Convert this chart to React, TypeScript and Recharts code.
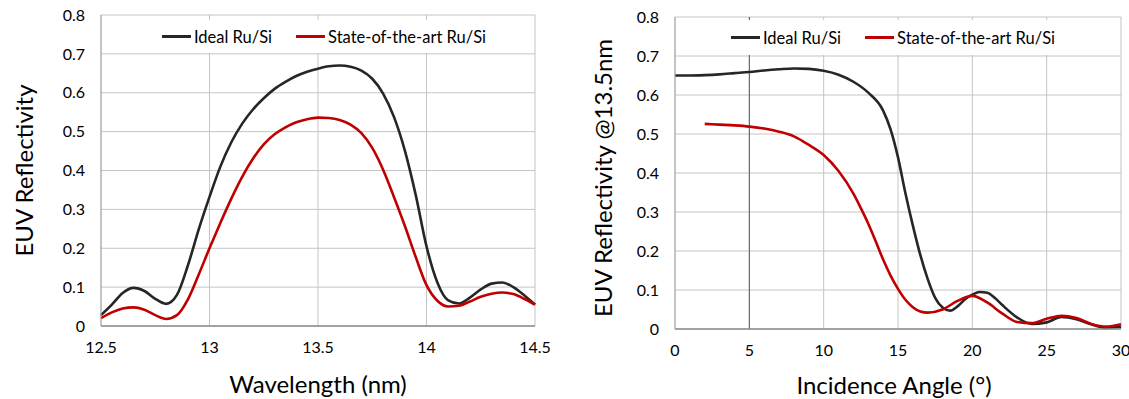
import React from 'react';
import { LineChart, Line, XAxis, YAxis, CartesianGrid, Legend, ReferenceLine } from 'recharts';

// Reflectivity vs wavelength (normal incidence)
const wavelengths = [
  12.5, 12.55, 12.6, 12.65, 12.7, 12.75, 12.8, 12.85, 12.9, 12.95,
  13.0, 13.05, 13.1, 13.15, 13.2, 13.25, 13.3, 13.35, 13.4, 13.45,
  13.5, 13.55, 13.6, 13.65, 13.7, 13.75, 13.8, 13.85, 13.9, 13.95,
  14.0, 14.05, 14.1, 14.15, 14.2, 14.25, 14.3, 14.35, 14.4, 14.45, 14.5,
];
const idealByWavelength = [
  0.028, 0.055, 0.085, 0.098, 0.09, 0.07, 0.057, 0.08, 0.155, 0.248,
  0.332, 0.41, 0.472, 0.52, 0.557, 0.586, 0.61, 0.628, 0.643, 0.654,
  0.662, 0.668, 0.67, 0.667, 0.657, 0.636, 0.598, 0.538, 0.452, 0.338,
  0.205, 0.112, 0.066, 0.058, 0.073, 0.094, 0.109, 0.112, 0.1, 0.079, 0.055,
];
const sotaByWavelength = [
  0.02, 0.035, 0.045, 0.048, 0.042, 0.028, 0.018, 0.028, 0.068, 0.132,
  0.2, 0.265, 0.327, 0.383, 0.43, 0.467, 0.493, 0.511, 0.524, 0.532,
  0.536, 0.535, 0.53, 0.518, 0.496, 0.458, 0.402, 0.332, 0.258, 0.178,
  0.105, 0.065, 0.05, 0.052, 0.063, 0.075, 0.083, 0.086, 0.082, 0.07, 0.055,
];

// Reflectivity at 13.5 nm vs incidence angle
const idealAngles = [
  0, 1, 2, 3, 4, 5, 6, 7, 8, 9, 10, 11, 12, 13, 14, 14.5, 15, 15.5, 16, 16.5,
  17, 17.5, 18, 18.5, 19, 19.5, 20, 20.5, 21, 21.5, 22, 23, 24, 25, 26, 27, 28, 29, 30,
];
const idealByAngle = [
  0.65, 0.65, 0.651, 0.653, 0.656, 0.659, 0.663, 0.666, 0.668, 0.667, 0.662, 0.652,
  0.634, 0.606, 0.56, 0.512, 0.44, 0.348, 0.265, 0.19, 0.128, 0.08, 0.055, 0.047,
  0.058, 0.076, 0.088, 0.095, 0.093, 0.08, 0.062, 0.03, 0.013, 0.017, 0.031, 0.025,
  0.012, 0.003, 0.005,
];
const sotaAngles = [
  2, 3, 4, 5, 6, 7, 8, 9, 10, 11, 12, 12.5, 13, 13.5, 14, 14.5, 15, 15.5, 16, 16.5,
  17, 18, 19, 20, 21, 22, 23, 24, 25, 26, 27, 28, 29, 30,
];
const sotaByAngle = [
  0.526, 0.524, 0.522, 0.519, 0.514, 0.506, 0.494, 0.472, 0.446, 0.405, 0.347,
  0.31, 0.27, 0.225, 0.178, 0.137, 0.103, 0.075, 0.056, 0.045, 0.042, 0.05,
  0.072, 0.085, 0.068, 0.04, 0.018, 0.015, 0.026, 0.034, 0.028, 0.013, 0.006, 0.012,
];

const wavelengthTicks = [12.5, 13, 13.5, 14, 14.5];
const angleTicks = [0, 5, 10, 15, 20, 25, 30];
const reflectivityTicks = [0, 0.1, 0.2, 0.3, 0.4, 0.5, 0.6, 0.7, 0.8];

const seriesNames = ['Ideal Ru/Si', 'State-of-the-art Ru/Si'];

const FONT = 'Lato, Carlito, Calibri, sans-serif';
const BLACK = '#262626';
const RED = '#c00000';
const GRID = '#c4c4c4';

const wavelengthData = wavelengths.map((w, i) => ({
  x: w,
  ideal: idealByWavelength[i],
  sota: sotaByWavelength[i],
}));

const idealAngleData = idealAngles.map((a, i) => ({ x: a, ideal: idealByAngle[i] }));
const sotaAngleData = sotaAngles.map((a, i) => ({ x: a, sota: sotaByAngle[i] }));

const tickStyle = { fontFamily: FONT, fontSize: 16, fill: '#000' };

// vertical axis title, drawn at a fixed x inside the chart svg
function YTitle(props: any) {
  const { viewBox, value, posX, shift = 0 } = props;
  const cy = viewBox.y + viewBox.height / 2 + shift;
  return (
    <text
      x={posX}
      y={cy}
      transform={`rotate(-90, ${posX}, ${cy})`}
      textAnchor="middle"
      dominantBaseline="central"
      style={{ fontFamily: FONT, fontSize: 24, fill: '#000' }}
    >
      {value}
    </text>
  );
}

function XTitle(props: any) {
  const { viewBox, value, posY, shift = 0 } = props;
  const cx = viewBox.x + viewBox.width / 2 + shift;
  return (
    <text
      x={cx}
      y={posY}
      textAnchor="middle"
      dominantBaseline="central"
      style={{ fontFamily: FONT, fontSize: 24, fill: '#000' }}
    >
      {value}
    </text>
  );
}

function LegendRow(props: any) {
  const { payload, shift = 0 } = props;
  return (
    <div
      style={{
        display: 'flex',
        justifyContent: 'center',
        alignItems: 'center',
        height: '100%',
        gap: 24,
        paddingLeft: shift > 0 ? shift * 2 : 0,
        paddingRight: shift < 0 ? -shift * 2 : 0,
        boxSizing: 'border-box',
        fontFamily: FONT,
        fontSize: 16.5,
        color: '#000',
        background: '#fff',
      }}
    >
      {payload.map((p: any) => (
        <span key={p.value} style={{ display: 'flex', alignItems: 'center' }}>
          <span style={{ width: 29, height: 2.5, background: p.color, marginRight: 3 }} />
          {p.value}
        </span>
      ))}
    </div>
  );
}

function WavelengthChart() {
  return (
    <LineChart
      width={560}
      height={399}
      data={wavelengthData}
      margin={{ top: 15, right: 25, bottom: 43, left: 51 }}
    >
      <CartesianGrid stroke={GRID} strokeWidth={1} />
      <XAxis
        dataKey="x"
        type="number"
        domain={[12.5, 14.5]}
        ticks={wavelengthTicks}
        tickLine={false}
        axisLine={{ stroke: '#8c8c8c', strokeWidth: 1.5 }}
        tick={tickStyle}
        tickMargin={10}
        height={30}
        label={<XTitle value="Wavelength (nm)" posY={383} />}
      />
      <YAxis
        type="number"
        domain={[0, 0.8]}
        ticks={reflectivityTicks}
        tickLine={false}
        axisLine={{ stroke: '#a6a6a6' }}
        tick={tickStyle}
        tickMargin={10}
        width={50}
        label={<YTitle value="EUV Reflectivity" posX={23} />}
      />
      <Legend
        layout="horizontal"
        verticalAlign="middle"
        align="center"
        content={<LegendRow shift={6} />}
        wrapperStyle={{ top: 20, left: 104, width: 428, height: 33 }}
      />
      <Line
        type="monotone"
        dataKey="ideal"
        name={seriesNames[0]}
        stroke={BLACK}
        strokeWidth={2.6}
        dot={false}
        isAnimationActive={false}
      />
      <Line
        type="monotone"
        dataKey="sota"
        name={seriesNames[1]}
        stroke={RED}
        strokeWidth={2.6}
        dot={false}
        isAnimationActive={false}
      />
    </LineChart>
  );
}

function AngleChart() {
  return (
    <LineChart width={569} height={399} margin={{ top: 17, right: 8, bottom: 40, left: 65 }}>
      <CartesianGrid stroke={GRID} strokeWidth={1} />
      <ReferenceLine x={5} stroke="#595959" strokeWidth={1} />
      <XAxis
        dataKey="x"
        type="number"
        domain={[0, 30]}
        ticks={angleTicks}
        tickLine={false}
        axisLine={{ stroke: '#8c8c8c', strokeWidth: 1.5 }}
        tick={tickStyle}
        tickMargin={10}
        height={30}
        allowDuplicatedCategory={false}
        label={<XTitle value="Incidence Angle (°)" posY={384} shift={-4} />}
      />
      <YAxis
        type="number"
        domain={[0, 0.8]}
        ticks={reflectivityTicks}
        tickLine={false}
        axisLine={{ stroke: '#a6a6a6' }}
        tick={tickStyle}
        tickMargin={10}
        width={50}
        label={<YTitle value="EUV Reflectivity @13.5nm" posX={42} shift={5} />}
      />
      <Legend
        layout="horizontal"
        verticalAlign="middle"
        align="center"
        content={<LegendRow shift={-5} />}
        wrapperStyle={{ top: 20, left: 118, width: 440, height: 35 }}
      />
      <Line
        type="monotone"
        data={idealAngleData}
        dataKey="ideal"
        name={seriesNames[0]}
        stroke={BLACK}
        strokeWidth={2.6}
        dot={false}
        isAnimationActive={false}
      />
      <Line
        type="monotone"
        data={sotaAngleData}
        dataKey="sota"
        name={seriesNames[1]}
        stroke={RED}
        strokeWidth={2.6}
        dot={false}
        isAnimationActive={false}
      />
    </LineChart>
  );
}

export default function App() {
  return (
    <div
      style={{
        position: 'absolute',
        left: 0,
        top: 0,
        width: 1129,
        height: 399,
        background: '#fff',
        display: 'flex',
      }}
    >
      <WavelengthChart />
      <AngleChart />
    </div>
  );
}
